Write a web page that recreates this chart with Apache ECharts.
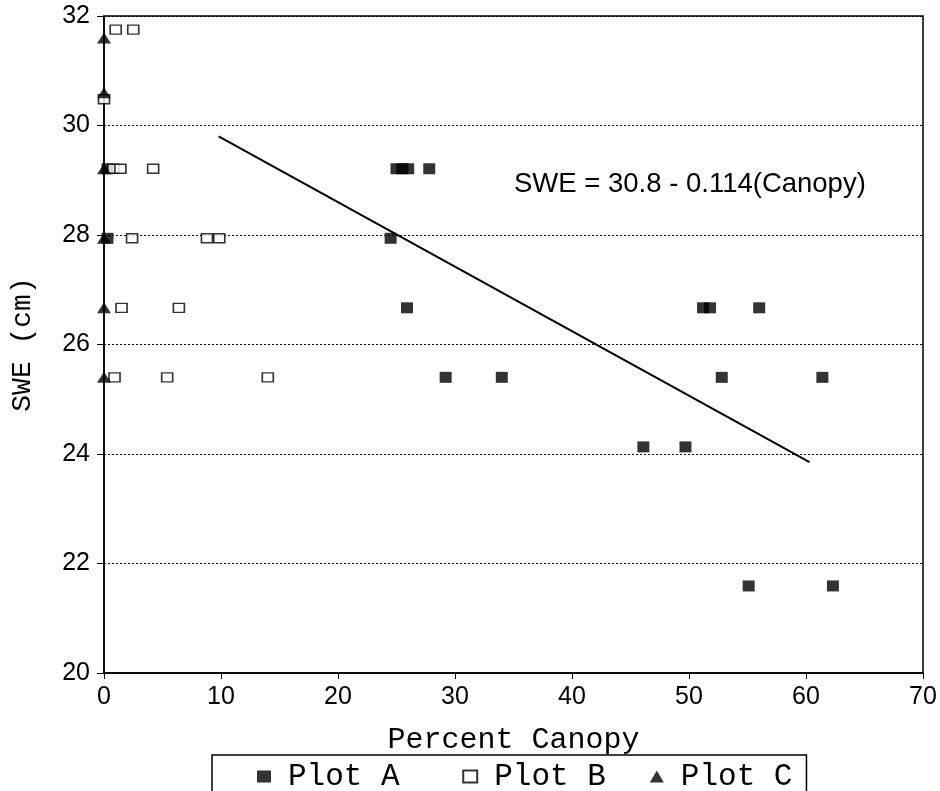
<!DOCTYPE html>
<html>
<head>
<meta charset="utf-8">
<script src="https://cdn.jsdelivr.net/npm/echarts@6/dist/echarts.min.js"></script>
<style>
    html, body { margin: 0; padding: 0; background: #ffffff; }
    #chart { width: 940px; height: 791px; }
</style>
</head>
<body>
<div id="chart"></div>
<script>
// SWE vs percent canopy
var plotA = [
    [0.3, 29.21], [0.3, 27.94], [24.5, 27.94], [25.0, 29.21], [25.5, 29.21],
    [26.0, 29.21], [27.8, 29.21], [25.9, 26.67], [29.2, 25.4], [34.0, 25.4],
    [46.1, 24.13], [49.7, 24.13], [51.2, 26.67], [51.8, 26.67], [56.0, 26.67],
    [52.8, 25.4], [61.4, 25.4], [55.1, 21.59], [62.3, 21.59]
];
var plotB = [
    [1.0, 31.75], [2.5, 31.75], [0, 30.48], [0.8, 29.21], [1.4, 29.21],
    [4.2, 29.21], [2.4, 27.94], [8.8, 27.94], [9.85, 27.94], [1.5, 26.67],
    [6.4, 26.67], [0.9, 25.4], [5.4, 25.4], [14.0, 25.4]
];
var plotC = [
    [0, 31.6], [0, 30.6], [0, 29.21], [0, 27.94], [0, 26.67], [0, 25.4]
];
var fitLine = [[9.8, 29.8], [60.3, 23.85]];
var equation = 'SWE = 30.8 - 0.114(Canopy)';

var mono = '"Liberation Mono", "Courier New", monospace';
var sans = '"Liberation Sans", Arial, sans-serif';

var myChart = echarts.init(document.getElementById('chart'));

var option = {
    backgroundColor: '#ffffff',
    animation: false,
    grid: {
        left: 104, right: 17, top: 16, bottom: 118,
        show: true, borderColor: '#000', borderWidth: 1.5
    },
    xAxis: {
        type: 'value', min: 0, max: 70, interval: 10,
        name: 'Percent Canopy', nameLocation: 'middle', nameGap: 52,
        nameTextStyle: { fontFamily: mono, fontSize: 30, color: '#000' },
        axisLine: { show: true, lineStyle: { color: '#000', width: 1.5 } },
        axisTick: { show: true, length: 6, lineStyle: { color: '#000' } },
        axisLabel: { margin: 12, fontFamily: sans, fontSize: 25, color: '#000' },
        splitLine: { show: false }
    },
    yAxis: {
        type: 'value', min: 20, max: 32, interval: 2,
        name: 'SWE (cm)', nameLocation: 'middle', nameGap: 67,
        nameTextStyle: { fontFamily: mono, fontSize: 28, color: '#000' },
        axisLine: { show: true, lineStyle: { color: '#000', width: 1.5 } },
        axisTick: { show: true, length: 7, lineStyle: { color: '#000' } },
        axisLabel: { margin: 14, fontFamily: sans, fontSize: 25, color: '#000' },
        splitLine: { show: true, lineStyle: { color: '#000', width: 1, type: [2, 2] } }
    },
    legend: {
        data: ['Plot A', 'Plot B', 'Plot C'],
        left: 212, top: 755,
        padding: [6, 14, 14, 45],
        itemGap: 44,
        itemWidth: 14, itemHeight: 12,
        borderColor: '#000', borderWidth: 1.5,
        // Plot A sits a bit further from Plot B than B from C
        formatter: function (name) {
            return name === 'Plot A' ? name + ' ' : name;
        },
        textStyle: { fontFamily: mono, fontSize: 31, color: '#000', padding: [0, 0, 0, 12] }
    },
    graphic: [{
        type: 'text', left: 514, top: 170,
        style: { text: equation, fontFamily: sans, fontSize: 27.5, fill: '#000' }
    }],
    series: [
        {
            name: 'fit', type: 'line', data: fitLine,
            showSymbol: false, silent: true,
            lineStyle: { color: '#000', width: 2 }
        },
        {
            name: 'Plot A', type: 'scatter', data: plotA,
            symbol: 'rect', symbolSize: [12, 11],
            itemStyle: { color: '#000' }
        },
        {
            name: 'Plot B', type: 'scatter', data: plotB,
            symbol: 'rect', symbolSize: [11, 9],
            itemStyle: { color: '#fff', borderColor: '#000', borderWidth: 1.5 }
        },
        {
            name: 'Plot C', type: 'scatter', data: plotC,
            symbol: 'triangle', symbolSize: [14, 11],
            itemStyle: { color: '#000' }
        }
    ]
};

option && myChart.setOption(option);

window.onresize = function () {
    myChart.resize();
};
</script>
</body>
</html>
